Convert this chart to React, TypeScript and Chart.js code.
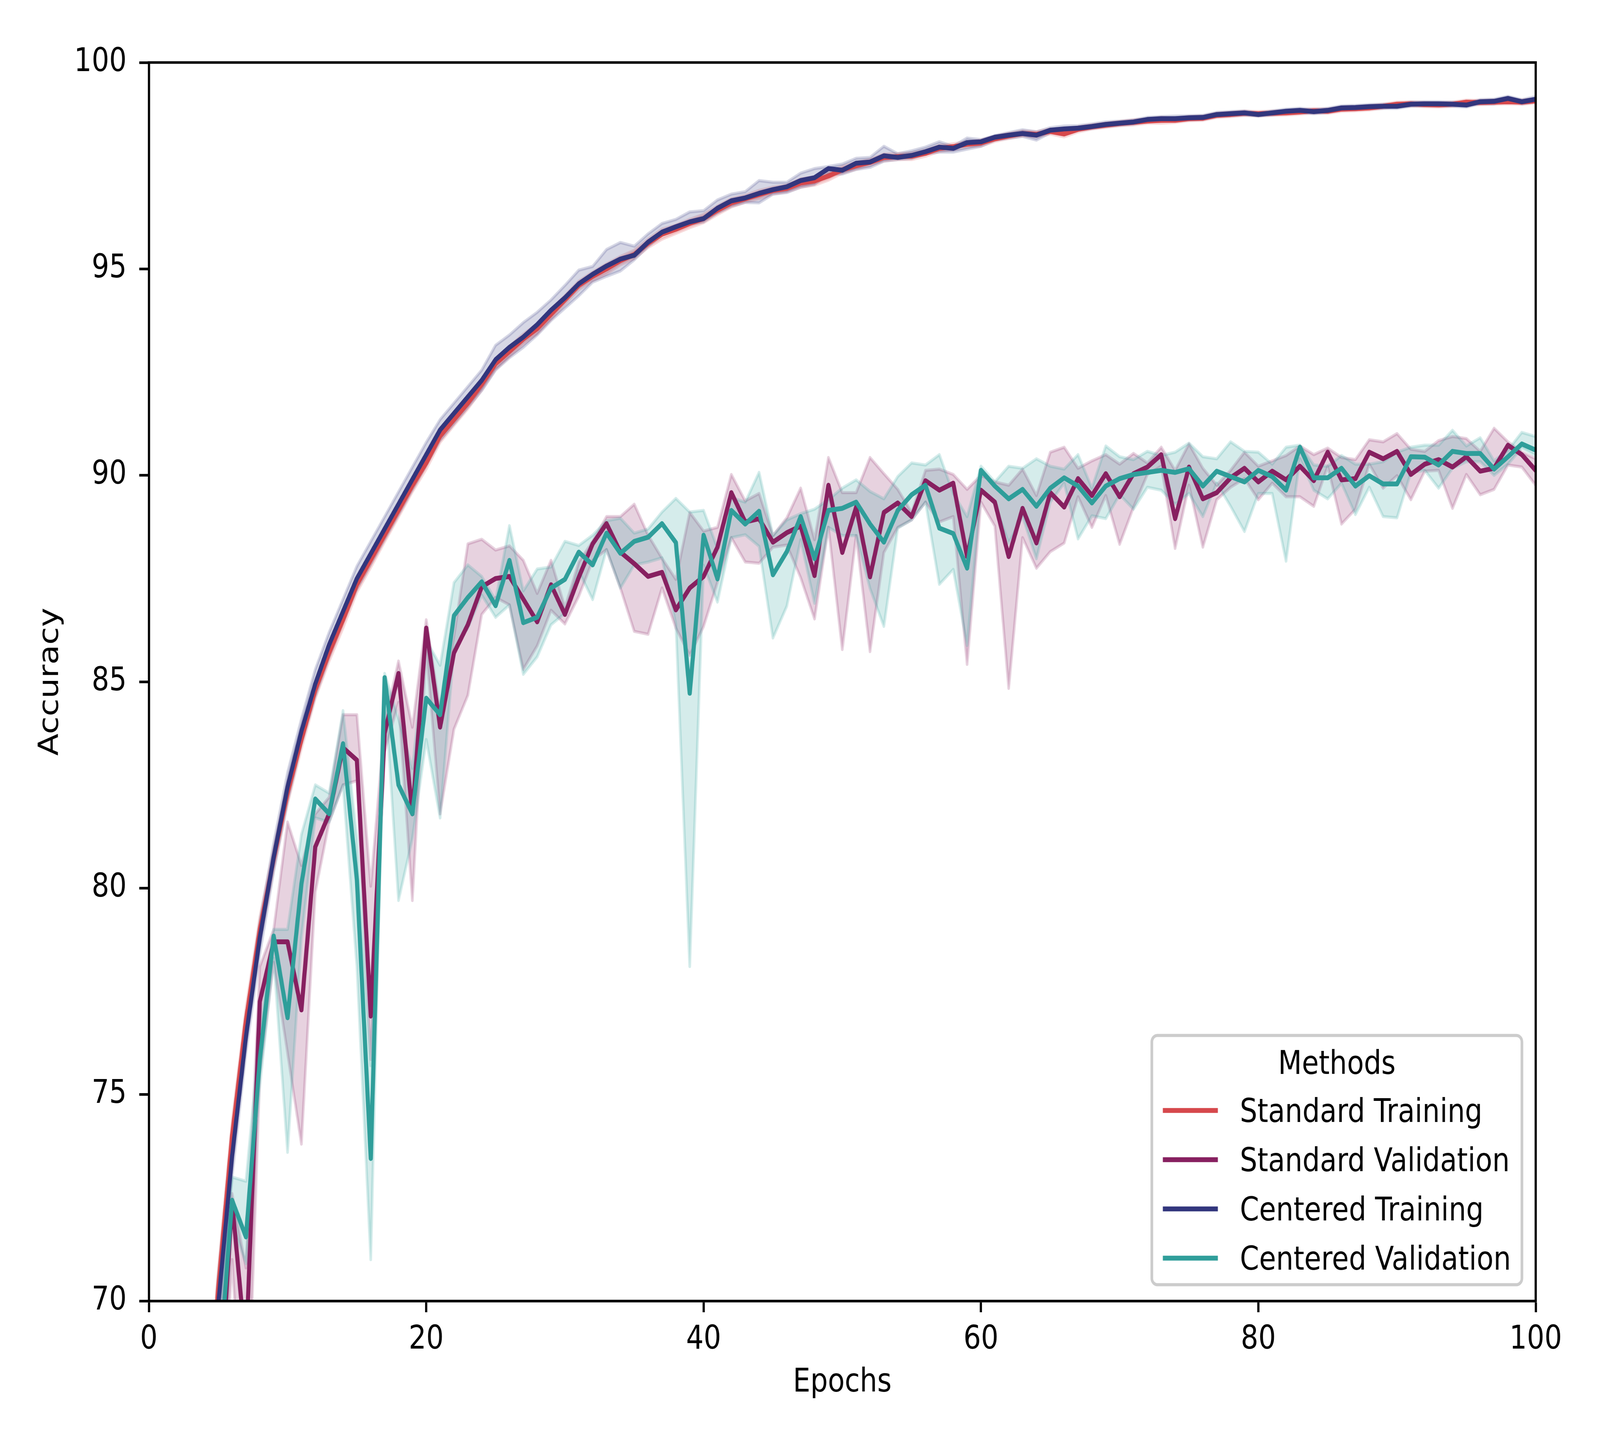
import React, { useEffect, useRef } from "react";
import { Chart, registerables } from "chart.js";

Chart.register(...registerables);

// ---------------- DATA ----------------
const epochs = Array.from({ length: 100 }, (_, i) => i + 1);
const methodLabels = ["Standard Training", "Standard Validation", "Centered Training", "Centered Validation"];
const legendTitle = "Methods";
const xTitle = "Epochs";
const yTitle = "Accuracy";

const stdTrain = [
  42.0, 53.0, 60.0, 66.0, 70.3, 74.0, 76.8, 79.0, 80.7, 82.3,
  83.6, 84.8, 85.7, 86.5, 87.35, 87.95, 88.55, 89.15, 89.75, 90.3,
  90.95, 91.35, 91.75, 92.2, 92.7, 93.0, 93.3, 93.55, 93.9, 94.25,
  94.6, 94.82, 95.0, 95.2, 95.35, 95.62, 95.84, 95.96, 96.1, 96.22,
  96.42, 96.6, 96.7, 96.8, 96.9, 96.95, 97.08, 97.13, 97.25, 97.4,
  97.5, 97.58, 97.7, 97.72, 97.73, 97.8, 97.92, 97.96, 98.02, 98.05,
  98.15, 98.22, 98.28, 98.26, 98.33, 98.27, 98.38, 98.44, 98.48, 98.52,
  98.55, 98.58, 98.6, 98.6, 98.64, 98.65, 98.72, 98.74, 98.77, 98.76,
  98.77, 98.78, 98.8, 98.83, 98.82, 98.87, 98.88, 98.9, 98.94, 98.99,
  99.0, 98.98, 98.97, 98.99, 99.04, 99.03, 99.04, 99.05, 99.04, 99.07,
];
const stdTrainSpread = [
  1.2, 1.0, 0.8, 0.6, 0.45, 0.35, 0.3, 0.3, 0.25, 0.25,
  0.22, 0.2, 0.2, 0.2, 0.18, 0.18, 0.16, 0.16, 0.15, 0.15,
  0.15, 0.14, 0.14, 0.13, 0.13, 0.12, 0.12, 0.12, 0.12, 0.1,
  0.1, 0.1, 0.12, 0.1, 0.1, 0.1, 0.12, 0.1, 0.1, 0.1,
  0.1, 0.1, 0.08, 0.1, 0.08, 0.08, 0.1, 0.1, 0.1, 0.08,
  0.08, 0.07, 0.08, 0.07, 0.08, 0.07, 0.07, 0.07, 0.06, 0.07,
  0.06, 0.06, 0.06, 0.06, 0.06, 0.07, 0.06, 0.05, 0.05, 0.05,
  0.06, 0.05, 0.07, 0.05, 0.05, 0.05, 0.05, 0.05, 0.05, 0.05,
  0.05, 0.05, 0.05, 0.05, 0.05, 0.05, 0.05, 0.05, 0.05, 0.05,
  0.05, 0.05, 0.05, 0.05, 0.05, 0.05, 0.05, 0.05, 0.05, 0.05,
];

const ctrTrain = [
  41.0, 52.0, 59.5, 65.5, 69.9, 73.5, 76.4, 78.8, 80.75, 82.45,
  83.8, 84.95, 85.9, 86.7, 87.5, 88.1, 88.7, 89.3, 89.9, 90.5,
  91.1, 91.5, 91.9, 92.3, 92.8, 93.1, 93.35, 93.65, 94.0, 94.3,
  94.64, 94.87, 95.07, 95.24, 95.33, 95.65, 95.89, 96.02, 96.14, 96.22,
  96.47, 96.65, 96.72, 96.83, 96.92, 96.99, 97.14, 97.21, 97.43, 97.39,
  97.56, 97.59, 97.74, 97.7, 97.75, 97.84, 97.95, 97.92, 98.06, 98.08,
  98.19, 98.24, 98.28, 98.24, 98.36, 98.39, 98.41, 98.45, 98.5, 98.53,
  98.56, 98.62, 98.64, 98.64, 98.66, 98.67, 98.74, 98.76, 98.78, 98.74,
  98.78, 98.82, 98.84, 98.81, 98.84, 98.9, 98.91, 98.93, 98.94, 98.94,
  98.99, 99.0, 99.0, 98.99, 98.97, 99.05, 99.06, 99.13, 99.05, 99.11,
];
const ctrTrainLo = [
  39.5, 50.8, 58.5, 64.6, 69.3, 73.0, 76.0, 78.4, 80.4, 82.1,
  83.5, 84.65, 85.6, 86.45, 87.25, 87.85, 88.45, 89.05, 89.65, 90.25,
  90.85, 91.25, 91.65, 92.05, 92.55, 92.85, 93.1, 93.4, 93.75, 94.05,
  94.35, 94.68, 94.82, 94.95, 95.22, 95.55, 95.83, 95.96, 96.09, 96.14,
  96.36, 96.52, 96.61, 96.6, 96.81, 96.85, 96.98, 97.05, 97.3, 97.3,
  97.41, 97.46, 97.61, 97.65, 97.68, 97.79, 97.83, 97.83, 97.9, 97.97,
  98.12, 98.17, 98.21, 98.12, 98.3, 98.34, 98.36, 98.4, 98.45, 98.48,
  98.51, 98.57, 98.59, 98.58, 98.61, 98.62, 98.69, 98.71, 98.73, 98.7,
  98.73, 98.77, 98.79, 98.76, 98.79, 98.85, 98.86, 98.88, 98.89, 98.89,
  98.94, 98.95, 98.95, 98.94, 98.92, 99.0, 99.0, 99.08, 99.0, 99.05,
];
const ctrTrainHi = [
  42.5, 53.2, 60.5, 66.4, 70.6, 74.1, 76.9, 79.2, 81.1, 82.8,
  84.1, 85.3, 86.2, 87.0, 87.8, 88.4, 89.0, 89.6, 90.2, 90.8,
  91.35, 91.75, 92.15, 92.55, 93.15, 93.4, 93.7, 93.95, 94.25, 94.6,
  94.97, 95.06, 95.47, 95.64, 95.55, 95.85, 96.1, 96.2, 96.38, 96.41,
  96.67, 96.81, 96.87, 97.14, 97.1, 97.1, 97.32, 97.43, 97.48, 97.54,
  97.68, 97.7, 97.97, 97.79, 97.86, 97.95, 98.08, 97.97, 98.17, 98.13,
  98.23, 98.3, 98.37, 98.32, 98.42, 98.46, 98.47, 98.51, 98.56, 98.58,
  98.61, 98.67, 98.69, 98.7, 98.71, 98.72, 98.79, 98.81, 98.83, 98.78,
  98.83, 98.87, 98.89, 98.86, 98.89, 98.95, 98.96, 98.98, 98.99, 98.99,
  99.04, 99.05, 99.05, 99.04, 99.02, 99.1, 99.11, 99.18, 99.1, 99.17,
];

const stdVal = [
  45.0, 55.0, 60.5, 63.0, 67.0, 72.4, 68.8, 77.25, 78.7, 78.7,
  77.05, 81.0, 81.8, 83.4, 83.1, 76.9, 83.75, 85.2, 81.8, 86.3,
  83.9, 85.7, 86.38, 87.3, 87.5, 87.55, 87.0, 86.45, 87.35, 86.63,
  87.53, 88.34, 88.83, 88.14, 87.86, 87.55, 87.65, 86.74, 87.27, 87.55,
  88.26, 89.58, 88.87, 88.95, 88.38, 88.61, 88.77, 87.57, 89.76, 88.13,
  89.23, 87.54, 89.1, 89.33, 89.0, 89.87, 89.64, 89.81, 88.03, 89.64,
  89.35, 88.03, 89.2, 88.36, 89.58, 89.23, 89.92, 89.51, 90.04, 89.48,
  90.04, 90.2, 90.5, 88.95, 90.2, 89.43, 89.58, 89.94, 90.17, 89.84,
  90.1, 89.89, 90.22, 89.87, 90.56, 89.89, 89.92, 90.56, 90.4, 90.58,
  90.02, 90.27, 90.38, 90.2, 90.45, 90.1, 90.17, 90.73, 90.5, 90.12,
];
const stdValLo = [
  42.0, 52.0, 58.0, 61.0, 65.0, 71.0, 65.5, 75.5, 78.2, 76.0,
  73.8, 79.9, 81.6, 82.5, 82.6, 75.85, 83.3, 84.5, 79.7, 85.8,
  81.8, 83.85, 84.67, 86.63, 87.04, 86.86, 85.3, 85.87, 86.73, 86.4,
  87.07, 87.94, 88.2, 87.27, 86.22, 86.15, 87.27, 86.3, 85.64, 86.34,
  87.41, 88.49, 87.9, 87.87, 88.26, 88.31, 87.52, 86.52, 88.74, 85.78,
  88.54, 85.73, 88.13, 88.74, 88.92, 89.35, 88.87, 89.0, 85.42, 89.35,
  88.77, 84.84, 88.49, 87.75, 88.15, 88.36, 89.48, 88.74, 89.51, 88.33,
  89.23, 90.02, 90.22, 88.23, 89.76, 88.26, 89.41, 89.71, 89.92, 89.41,
  89.81, 89.48, 89.48, 89.25, 90.22, 88.82, 89.18, 90.27, 89.69, 89.99,
  89.41, 90.1, 90.12, 89.2, 90.02, 89.53, 89.66, 90.25, 90.2, 89.76,
];
const stdValHi = [
  48.0, 58.0, 63.0, 65.0, 69.0, 72.6, 70.8, 78.1, 79.0, 81.6,
  80.55, 81.8, 82.2, 84.2, 84.2, 80.05, 84.0, 85.5, 83.9, 86.5,
  84.3, 86.1, 88.34, 88.45, 88.19, 88.29, 87.94, 87.14, 87.94, 86.8,
  87.9, 88.4, 89.0, 89.0, 89.3, 88.55, 87.99, 87.48, 89.1, 88.65,
  88.74, 90.02, 89.38, 89.56, 88.54, 88.97, 89.69, 88.44, 90.43, 89.58,
  89.58, 90.43, 90.04, 89.66, 89.1, 90.12, 90.15, 90.02, 89.66, 90.0,
  89.84, 89.76, 90.15, 89.51, 90.56, 90.68, 90.17, 90.35, 90.5, 90.27,
  90.53, 90.3, 90.68, 90.12, 90.76, 90.17, 89.76, 90.12, 90.56, 90.22,
  90.35, 90.48, 90.71, 90.5, 90.66, 90.43, 90.38, 90.86, 90.81, 91.01,
  90.63, 90.58, 90.84, 90.94, 90.89, 90.58, 91.14, 90.81, 90.56, 90.4,
];

const ctrVal = [
  46.0, 56.0, 61.0, 64.5, 68.0, 72.44, 71.55, 75.85, 78.84, 76.86,
  80.1, 82.16, 81.8, 83.5, 80.2, 73.45, 85.1, 82.5, 81.8, 84.6,
  84.2, 86.6, 87.04, 87.42, 86.84, 87.94, 86.43, 86.56, 87.27, 87.48,
  88.14, 87.83, 88.6, 88.11, 88.4, 88.5, 88.83, 88.37, 84.72, 88.55,
  87.49, 89.15, 88.82, 89.13, 87.59, 88.15, 89.0, 87.98, 89.15, 89.2,
  89.35, 88.82, 88.38, 89.15, 89.53, 89.76, 88.72, 88.59, 87.75, 90.12,
  89.74, 89.43, 89.66, 89.25, 89.69, 89.94, 89.74, 89.33, 89.74, 89.92,
  90.02, 90.07, 90.12, 90.07, 90.16, 89.74, 90.1, 89.97, 89.84, 90.12,
  89.97, 89.64, 90.68, 89.94, 89.94, 90.17, 89.74, 89.99, 89.79, 89.79,
  90.45, 90.44, 90.25, 90.58, 90.53, 90.53, 90.15, 90.45, 90.76, 90.61,
];
const ctrValLo = [
  43.0, 53.0, 59.0, 62.5, 66.5, 71.9, 70.9, 75.2, 78.3, 73.6,
  78.8, 81.7, 81.6, 82.5, 78.1, 71.0, 84.9, 79.7, 81.2, 83.6,
  81.7, 85.8, 86.3, 87.1, 86.56, 86.86, 85.18, 85.6, 86.38, 86.66,
  87.68, 86.99, 88.2, 87.27, 87.83, 87.9, 88.0, 86.4, 78.1, 87.82,
  86.93, 88.49, 88.56, 88.28, 86.06, 86.83, 88.44, 86.9, 88.74, 88.54,
  88.54, 87.26, 86.34, 88.72, 88.92, 89.35, 87.36, 87.72, 85.88, 89.66,
  89.3, 88.36, 89.0, 87.98, 89.35, 89.81, 88.46, 89.02, 88.95, 89.53,
  89.18, 89.71, 89.64, 89.3, 89.56, 89.0, 89.81, 89.25, 88.64, 89.56,
  89.56, 87.92, 90.4, 89.64, 89.43, 89.81, 89.05, 89.71, 89.0, 88.97,
  90.07, 90.12, 89.69, 90.17, 90.33, 90.33, 90.0, 90.27, 90.66, 90.48,
];
const ctrValHi = [
  49.0, 59.0, 63.0, 66.5, 69.5, 73.0, 72.9, 76.5, 79.0, 79.0,
  81.3, 82.5, 82.3, 84.3, 81.2, 75.7, 85.2, 84.1, 82.9, 86.0,
  85.4, 87.4, 87.83, 87.55, 86.97, 88.78, 87.2, 87.73, 87.78, 88.4,
  88.3, 88.55, 88.9, 88.96, 88.6, 88.7, 89.11, 89.44, 89.11, 89.15,
  88.23, 89.46, 89.35, 90.07, 88.54, 88.92, 89.07, 89.18, 89.41, 89.69,
  89.89, 89.61, 89.43, 89.97, 90.3, 90.25, 90.5, 89.56, 89.0, 90.22,
  89.84, 90.22, 90.17, 90.4, 90.22, 90.15, 90.5, 89.69, 90.71, 90.45,
  90.38, 90.58, 90.48, 90.56, 90.78, 90.45, 90.4, 90.81, 90.58, 90.56,
  90.27, 90.68, 90.73, 90.25, 90.22, 90.48, 90.27, 90.27, 90.33, 90.56,
  90.68, 90.73, 90.73, 91.09, 90.71, 90.91, 90.35, 90.61, 91.04, 90.94,
];

// ---------------- STYLE ----------------
const W = 4826;
const H = 3686;
const FS = 83;
const FONT = "'DejaVu Sans', 'Liberation Sans', sans-serif";
const colors = ["#D6484C", "#872060", "#32367D", "#2F9E9A"];

function rgba(hex: string, a: number) {
  const n = parseInt(hex.slice(1), 16);
  return `rgba(${(n >> 16) & 255},${(n >> 8) & 255},${n & 255},${a})`;
}

const pts = (ys: number[]) => epochs.map((e, i) => ({ x: e, y: ys[i] }));

function lineDs(label: string, ys: number[], color: string, order: number) {
  return {
    label,
    data: pts(ys),
    borderColor: color,
    backgroundColor: color,
    borderWidth: 12.5,
    pointRadius: 0,
    pointHoverRadius: 0,
    tension: 0,
    fill: false,
    borderJoinStyle: "round",
    borderCapStyle: "square",
    clip: 0,
    order,
  };
}

function bandDs(label: string, ys: number[], color: string, order: number, fill: any) {
  return {
    label,
    data: pts(ys),
    borderColor: rgba(color, 0.2),
    backgroundColor: rgba(color, 0.2),
    borderWidth: 8,
    pointRadius: 0,
    pointHoverRadius: 0,
    tension: 0,
    fill,
    borderJoinStyle: "round",
    clip: 0,
    order,
  };
}

const framePlugin = {
  id: "frameTopRight",
  afterDatasetsDraw(chart: any) {
    const { ctx, chartArea: a } = chart;
    ctx.save();
    ctx.strokeStyle = "#000";
    ctx.lineWidth = 6.7;
    ctx.lineCap = "square";
    ctx.beginPath();
    ctx.moveTo(a.left, a.top);
    ctx.lineTo(a.right, a.top);
    ctx.lineTo(a.right, a.bottom);
    ctx.stroke();
    ctx.restore();
  },
};

const legendPlugin = {
  id: "mplLegend",
  afterDraw(chart: any) {
    const { ctx, chartArea: a } = chart;
    ctx.save();
    ctx.font = `${FS}px ${FONT}`;
    const maxLabel = Math.max(...methodLabels.map((t) => ctx.measureText(t).width));
    const pad = 0.4 * FS;
    const handleLen = 2 * FS;
    const handleGap = 0.8 * FS;
    const boxW = pad + handleLen + handleGap + maxLabel + pad;
    const boxH = 638;
    const right = a.right - 0.5 * FS;
    const bottom = a.bottom - 0.5 * FS;
    const left = right - boxW;
    const top = bottom - boxH;
    const r = 0.2 * FS;
    ctx.beginPath();
    ctx.moveTo(left + r, top);
    ctx.lineTo(right - r, top);
    ctx.arcTo(right, top, right, top + r, r);
    ctx.lineTo(right, bottom - r);
    ctx.arcTo(right, bottom, right - r, bottom, r);
    ctx.lineTo(left + r, bottom);
    ctx.arcTo(left, bottom, left, bottom - r, r);
    ctx.lineTo(left, top + r);
    ctx.arcTo(left, top, left + r, top, r);
    ctx.closePath();
    ctx.fillStyle = "rgba(255,255,255,0.8)";
    ctx.fill();
    ctx.strokeStyle = "#cccccc";
    ctx.lineWidth = 8;
    ctx.stroke();

    const rowGap = 126;
    const lastRow = bottom - 68;
    const firstRow = lastRow - rowGap * (methodLabels.length - 1);
    ctx.fillStyle = "#000";
    ctx.textBaseline = "alphabetic";
    ctx.textAlign = "center";
    ctx.fillText(legendTitle, (left + right) / 2, firstRow - 94);
    ctx.textAlign = "left";
    methodLabels.forEach((t, i) => {
      const y = firstRow + i * rowGap;
      ctx.strokeStyle = colors[i];
      ctx.lineWidth = 12.5;
      ctx.lineCap = "butt";
      ctx.beginPath();
      ctx.moveTo(left + pad, y);
      ctx.lineTo(left + pad + handleLen, y);
      ctx.stroke();
      ctx.fillStyle = "#000";
      ctx.fillText(t, left + pad + handleLen + handleGap, y + 29);
    });
    ctx.restore();
  },
};

function viewport() {
  if (typeof window === "undefined") return { vw: W, vh: H };
  const vw = window.innerWidth || W;
  const vh = window.innerHeight || H;
  return { vw, vh };
}

export default function App() {
  const ref = useRef<HTMLCanvasElement | null>(null);
  const { vw, vh } = viewport();

  useEffect(() => {
    document.body.style.margin = "0";
    document.body.style.overflow = "hidden";
    const canvas = ref.current;
    if (!canvas) return;

    const datasets: any[] = [
      bandDs("std-train-lo", stdTrain.map((v, i) => v - stdTrainSpread[i]), colors[0], 8, false),
      bandDs("std-train-hi", stdTrain.map((v, i) => v + stdTrainSpread[i]), colors[0], 8, "-1"),
      bandDs("std-val-lo", stdValLo, colors[1], 7, false),
      bandDs("std-val-hi", stdValHi, colors[1], 7, "-1"),
      bandDs("ctr-train-lo", ctrTrainLo, colors[2], 6, false),
      bandDs("ctr-train-hi", ctrTrainHi, colors[2], 6, "-1"),
      bandDs("ctr-val-lo", ctrValLo, colors[3], 5, false),
      bandDs("ctr-val-hi", ctrValHi, colors[3], 5, "-1"),
      lineDs(methodLabels[0], stdTrain, colors[0], 4),
      lineDs(methodLabels[1], stdVal, colors[1], 3),
      lineDs(methodLabels[2], ctrTrain, colors[2], 2),
      lineDs(methodLabels[3], ctrVal, colors[3], 1),
    ];

    const tickFont = { size: FS, family: FONT };
    const gridOpts = {
      display: true,
      drawOnChartArea: false,
      drawTicks: true,
      tickLength: 29,
      tickWidth: 6.7,
      tickColor: "#000",
    };

    const chart = new Chart(canvas, {
      type: "line",
      data: { datasets },
      options: {
        animation: false,
        responsive: false,
        devicePixelRatio: 1,
        events: [],
        layout: { padding: { top: 160, right: 194, bottom: 0, left: 0 } },
        plugins: {
          legend: { display: false },
          tooltip: { enabled: false },
          title: { display: false },
        },
        scales: {
          x: {
            type: "linear",
            min: 0,
            max: 100,
            ticks: { stepSize: 20, padding: 22, color: "#000", font: tickFont },
            grid: gridOpts,
            border: { display: true, color: "#000", width: 6.7, z: 1 },
            title: {
              display: true,
              text: xTitle,
              color: "#000",
              font: tickFont,
              padding: { top: 0, bottom: 96 },
            },
            afterFit: (s: any) => {
              s.height = 356;
            },
          },
          y: {
            type: "linear",
            min: 70,
            max: 100,
            ticks: { stepSize: 5, padding: 38, color: "#000", font: tickFont },
            grid: gridOpts,
            border: { display: true, color: "#000", width: 6.7, z: 1 },
            title: {
              display: true,
              text: yTitle,
              color: "#000",
              font: tickFont,
              padding: { top: 104, bottom: 0 },
            },
            afterFit: (s: any) => {
              s.width = 449;
            },
          },
        },
      } as any,
      plugins: [framePlugin, legendPlugin],
    });
    return () => chart.destroy();
  }, []);

  return (
    <div style={{ position: "absolute", left: 0, top: 0, width: vw, height: vh, background: "#fff", overflow: "hidden" }}>
      <canvas ref={ref} width={W} height={H} style={{ width: vw, height: vh, display: "block" }} />
    </div>
  );
}
